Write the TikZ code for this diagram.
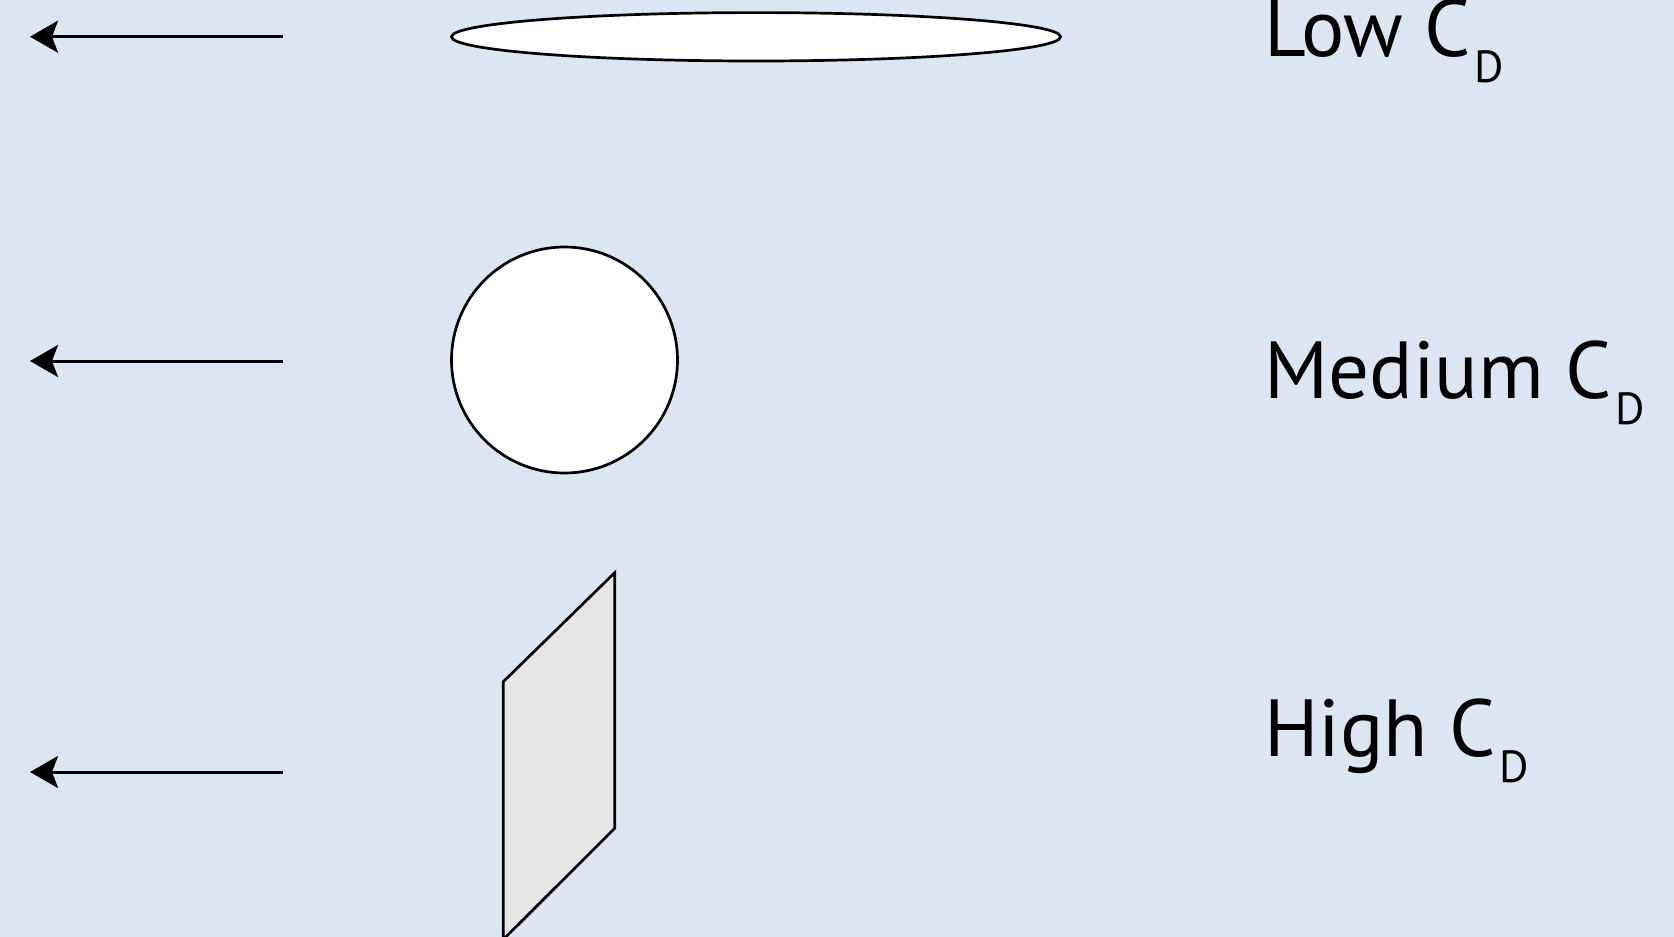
\documentclass[tikz,border=0pt]{standalone}
\usepackage{fontspec}
\setmainfont{PT Sans}
\usetikzlibrary{arrows.meta}
\definecolor{bgblue}{HTML}{DCE6F2}
\definecolor{plategrey}{HTML}{E5E5E5}
\newcommand{\cdlabel}[1]{\fontsize{81}{81}\selectfont #1 C\kern3pt\raisebox{-26pt}{\fontsize{45}{45}\selectfont D}}
\tikzset{
  flowarrow/.style={line width=3pt, -{Stealth[length=28pt, width=32pt, inset=6pt]}},
  body/.style={draw=black, line width=2.7pt, fill=white},
  cdtext/.style={anchor=base west, inner sep=0pt, text=black},
}
\begin{document}
\begin{tikzpicture}[x=1pt, y=-1pt]
  \fill[bgblue] (0,0) rectangle (1674,937);
  \useasboundingbox (0,0) rectangle (1674,937);
  % arrows
  \coordinate (a1s) at (283,36.7); \coordinate (a1e) at (30,36.7);
  \coordinate (a2s) at (283,361);  \coordinate (a2e) at (30,361);
  \coordinate (a3s) at (283,772);  \coordinate (a3e) at (30,772);
  \draw[flowarrow] (a1s) -- (a1e);
  \draw[flowarrow] (a2s) -- (a2e);
  \draw[flowarrow] (a3s) -- (a3e);
  % shapes
  \draw[body] (756,36.8) ellipse [x radius=304.5, y radius=24.2];
  \draw[body] (564.5,360) circle [radius=113];
  \begin{scope}
    \clip (0,0) rectangle (1674,937);
    \draw[body, fill=plategrey, line join=miter] (503.3,681.7) -- (614.7,572.7) -- (614.7,828.3) -- (503.3,939.5) -- cycle;
  \end{scope}
  % labels
  \node[cdtext] (low) at (1264,56.7) {\cdlabel{Low}};
  \node[cdtext] (med) at (1264,398) {\cdlabel{Medium}};
  \node[cdtext] (high) at (1264,756) {\cdlabel{High}};
\end{tikzpicture}
\end{document}
